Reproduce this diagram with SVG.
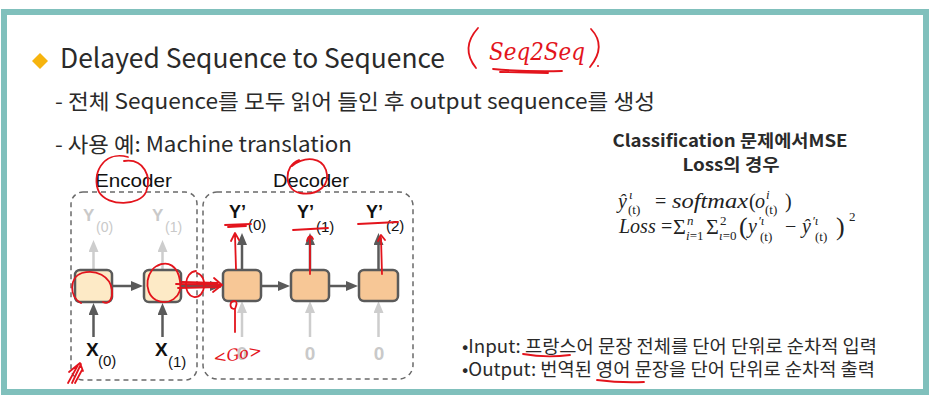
<svg xmlns="http://www.w3.org/2000/svg" width="941" height="403" viewBox="0 0 941 403">
  <style>
    .kr { font-family: "Noto Sans CJK KR", "Noto Sans", sans-serif; fill: #2a2a2a; }
    .lbl { font-family: "Liberation Sans", Arial, sans-serif; }
    .b { font-weight: bold; }
    .dark { fill: #111; }
    .faint { fill: #c9c9c9; }
    .math { font-family: "Liberation Serif", "Times New Roman", serif; font-style: italic; fill: #222; font-size: 20px; }
    .up { font-style: normal; }
    .s { font-size: 13px; }
    .cell-enc { fill: #fdeac6; stroke: #5a5a5a; stroke-width: 2.5; }
    .cell-dec { fill: #f7c796; stroke: #5a5a5a; stroke-width: 2.5; }
    .box { fill: none; stroke: #6a6a6a; stroke-width: 1.5; stroke-dasharray: 5 4; }
    .a-dark { stroke: #5a5a5a; stroke-width: 2.5; marker-end: url(#ah-dark); }
    .a-light { stroke: #cdcdcd; stroke-width: 2.5; marker-end: url(#ah-light); }
    .ink { fill: none; stroke: #e3141c; stroke-width: 1.8; stroke-linecap: round; stroke-linejoin: round; }
    .ink-t { fill: #e3141c; font-family: "DejaVu Serif", serif; font-style: italic; }
  </style>
  <defs>
    <marker id="ah-dark" markerWidth="12" markerHeight="10" refX="2" refY="5" orient="auto" markerUnits="userSpaceOnUse">
      <path d="M0,0 L12,5 L0,10 z" fill="#5a5a5a"/>
    </marker>
    <marker id="ah-light" markerWidth="12" markerHeight="10" refX="2" refY="5" orient="auto" markerUnits="userSpaceOnUse">
      <path d="M0,0 L12,5 L0,10 z" fill="#cdcdcd"/>
    </marker>
  </defs>

  <!-- slide frame -->
  <rect x="0" y="0" width="941" height="403" fill="#ffffff"/>
  <rect x="4" y="12" width="922" height="380" fill="#ffffff" stroke="#80c0bc" stroke-width="6"/>

  <!-- heading and bullet lines -->
  <g id="title">
    <path d="M40,53 L48,61 L40,69 L32,61 z" fill="#f6b40e"/>
    <text class="kr" x="60" y="68" font-size="27" textLength="385" lengthAdjust="spacingAndGlyphs">Delayed Sequence to Sequence</text>
  </g>
  <g id="bullets-top">
    <text class="kr" x="55" y="109" font-size="21" textLength="600" lengthAdjust="spacingAndGlyphs">- 전체 Sequence를 모두 읽어 들인 후 output sequence를 생성</text>
    <text class="kr" x="55" y="152" font-size="21" textLength="297" lengthAdjust="spacingAndGlyphs">- 사용 예: Machine translation</text>
  </g>

  <!-- encoder / decoder frames -->
  <g id="encoder">
    <rect class="box" x="71" y="192" width="126" height="188" rx="12"/>
    <text class="lbl dark" x="95" y="187" font-size="19" textLength="77" lengthAdjust="spacingAndGlyphs">Encoder</text>
  </g>
  <g id="decoder">
    <rect class="box" x="203" y="192" width="210" height="187" rx="14"/>
    <text class="lbl dark" x="273" y="187" font-size="19" textLength="76" lengthAdjust="spacingAndGlyphs">Decoder</text>
  </g>

  <!-- connectors -->
  <g id="connectors" fill="none">
    <line class="a-dark" x1="113" y1="286" x2="133" y2="286"/>
    <line class="a-dark" x1="182" y1="286" x2="212" y2="286"/>
    <line class="a-dark" x1="262" y1="286" x2="280" y2="286"/>
    <line class="a-dark" x1="330" y1="286" x2="348" y2="286"/>
    <!-- encoder outputs (unused) -->
    <line class="a-light" x1="93.5" y1="269" x2="93.5" y2="250"/>
    <line class="a-light" x1="162.5" y1="269" x2="162.5" y2="250"/>
    <!-- encoder inputs -->
    <line class="a-dark" x1="93.5" y1="337" x2="93.5" y2="313"/>
    <line class="a-dark" x1="162.5" y1="337" x2="162.5" y2="313"/>
    <!-- decoder outputs -->
    <line class="a-dark" x1="242" y1="269" x2="242" y2="243"/>
    <line class="a-dark" x1="310" y1="269" x2="310" y2="243"/>
    <line class="a-dark" x1="378.5" y1="269" x2="378.5" y2="243"/>
    <!-- decoder inputs -->
    <line class="a-light" x1="242" y1="337" x2="242" y2="311"/>
    <line class="a-light" x1="310" y1="337" x2="310" y2="311"/>
    <line class="a-light" x1="378.5" y1="337" x2="378.5" y2="311"/>
  </g>

  <!-- recurrent cells -->
  <g id="enc-cell-0"><rect class="cell-enc" x="75" y="270" width="37" height="32" rx="5"/></g>
  <g id="enc-cell-1"><rect class="cell-enc" x="144" y="270" width="37" height="32" rx="5"/></g>
  <g id="dec-cell-0"><rect class="cell-dec" x="223" y="270" width="38" height="31" rx="5"/></g>
  <g id="dec-cell-1"><rect class="cell-dec" x="291" y="270" width="38" height="31" rx="5"/></g>
  <g id="dec-cell-2"><rect class="cell-dec" x="359" y="270" width="39" height="31" rx="5"/></g>

  <!-- sequence labels -->
  <g id="enc-out-labels" class="lbl faint">
    <text x="83" y="221" font-size="17" class="b">Y</text><text x="96" y="232" font-size="14">(0)</text>
    <text x="152" y="221" font-size="17" class="b">Y</text><text x="165" y="232" font-size="14">(1)</text>
  </g>
  <g id="enc-in-labels" class="lbl dark">
    <text x="86" y="356" font-size="19" class="b">X</text><text x="98" y="366" font-size="15">(0)</text>
    <text x="155" y="356" font-size="19" class="b">X</text><text x="168" y="367" font-size="15">(1)</text>
  </g>
  <g id="dec-out-labels" class="lbl dark">
    <text x="229" y="218" font-size="18" class="b">Y’</text><text x="248" y="230" font-size="15">(0)</text>
    <text x="297" y="218" font-size="18" class="b">Y’</text><text x="316" y="232" font-size="15">(1)</text>
    <text x="366" y="218" font-size="18" class="b">Y’</text><text x="386" y="231" font-size="15">(2)</text>
  </g>
  <g id="dec-in-labels" class="lbl faint b" text-anchor="middle" font-size="19">
    <text x="242" y="360">0</text>
    <text x="310" y="360">0</text>
    <text x="379" y="360">0</text>
  </g>

  <!-- loss note -->
  <g id="loss-note">
    <text class="kr b" x="730" y="147" font-size="17" text-anchor="middle" fill="#111" textLength="235" lengthAdjust="spacingAndGlyphs">Classification 문제에서MSE</text>
    <text class="kr b" x="731" y="171" font-size="17" text-anchor="middle" fill="#111" textLength="97" lengthAdjust="spacingAndGlyphs">Loss의 경우</text>
    <!-- softmax output -->
    <g class="math">
      <text x="618" y="208">ŷ</text>
      <text x="629" y="199" class="s">ι</text>
      <text x="628" y="214" class="s up">(t)</text>
      <text x="655" y="208" class="up">=</text>
      <text x="672" y="208" textLength="76" lengthAdjust="spacingAndGlyphs">softmax</text>
      <text x="749" y="208" class="up">(</text>
      <text x="755" y="208">o</text>
      <text x="766" y="199" class="s">i</text>
      <text x="765" y="214" class="s up">(t)</text>
      <text x="785" y="208" class="up">)</text>
    </g>
    <!-- squared-error loss -->
    <g class="math">
      <text x="619" y="233">Loss</text>
      <text x="661" y="233" class="up">=</text>
      <text x="673" y="234" class="up" font-size="22">Σ</text>
      <text x="687" y="225" class="s">n</text>
      <text x="686" y="240" class="s">i<tspan class="up">=1</tspan></text>
      <text x="706" y="234" class="up" font-size="22">Σ</text>
      <text x="720" y="225" class="s up">2</text>
      <text x="719" y="240" class="s">ι<tspan class="up">=0</tspan></text>
      <text x="739" y="235" class="up" font-size="26">(</text>
      <text x="748" y="233">y</text>
      <text x="758" y="225" class="s">′ι</text>
      <text x="760" y="241" class="s up">(t)</text>
      <text x="785" y="233" class="up">−</text>
      <text x="802" y="233">ŷ</text>
      <text x="812" y="225" class="s">′ι</text>
      <text x="815" y="241" class="s up">(t)</text>
      <text x="836" y="235" class="up" font-size="26">)</text>
      <text x="849" y="221" class="s up">2</text>
    </g>
  </g>

  <!-- input / output description -->
  <g id="io-note">
    <text class="kr" x="462" y="353" font-size="18" textLength="415" lengthAdjust="spacingAndGlyphs">•Input: 프랑스어 문장 전체를 단어 단위로 순차적 입력</text>
    <text class="kr" x="462" y="376" font-size="18" textLength="413" lengthAdjust="spacingAndGlyphs">•Output: 번역된 영어 문장을 단어 단위로 순차적 출력</text>
  </g>

  <!-- pen annotations -->
  <g id="annotations">
    <path class="ink" d="M478,28 Q460,48 476,68"/>
    <text class="ink-t" x="489" y="60" font-size="24" textLength="96" lengthAdjust="spacingAndGlyphs">Seq2Seq</text>
    <path class="ink" d="M493,69 Q528,72 562,71 M500,72 L548,73"/>
    <path class="ink" d="M591,29 Q607,46 590,67"/>
    <circle cx="598" cy="66" r="1" fill="#e3141c"/>

    <path class="ink" d="M128,157 C102,150 91,176 99,192 C108,207 140,206 146,192 C152,177 144,158 124,161"/>
    <path class="ink" d="M299,160 C283,166 284,190 300,193 C318,196 331,185 326,170 C322,158 306,155 292,166"/>

    <path class="ink" d="M81,303 C69,297 69,277 82,273 C96,269 110,276 112,290 C113,300 108,305 103,302"/>
    <path class="ink" d="M161,264 C146,268 142,292 156,300 C168,306 183,298 180,281 C178,266 168,260 157,266"/>
    <path class="ink" d="M176,284 L222,285 M178,288 L220,287 M182,282 L218,283"/>
    <path class="ink" d="M196,271 C184,272 182,294 194,297 C206,298 208,276 197,273"/>
    <path class="ink" d="M214,278 L222,285 L213,292"/>

    <path class="ink" d="M236,269 L235,235 M231,241 L235,233 L239,240"/>
    <path class="ink" d="M235,309 C229,309 229,301 235,301 C238,302 236,306 235,309 L235,332"/>
    <path class="ink" d="M310,274 L310,237 M307,241 C308,236 311,234 313,239"/>
    <path class="ink" d="M382,274 L381,238 M378,241 L381,235 L385,240"/>
    <path class="ink" d="M225,225 L251,224 M228,227 L246,226"/>
    <path class="ink" d="M293,230 L328,228"/>
    <path class="ink" d="M358,224 L398,222"/>

    <text class="ink-t" x="213" y="361" font-size="16" transform="rotate(-10 230 355)">&lt;Go&gt;</text>

    <path class="ink" d="M68,383 L78,365 M72,383 L81,364 M75,383 L82,370 M69,372 L80,363 L83,371"/>

    <path class="ink" d="M523,354 Q546,358 570,355"/>
    <path class="ink" d="M597,380 Q620,383 644,382"/>
    <circle cx="758" cy="350" r="0.9" fill="#e3141c"/>
  </g>
</svg>
